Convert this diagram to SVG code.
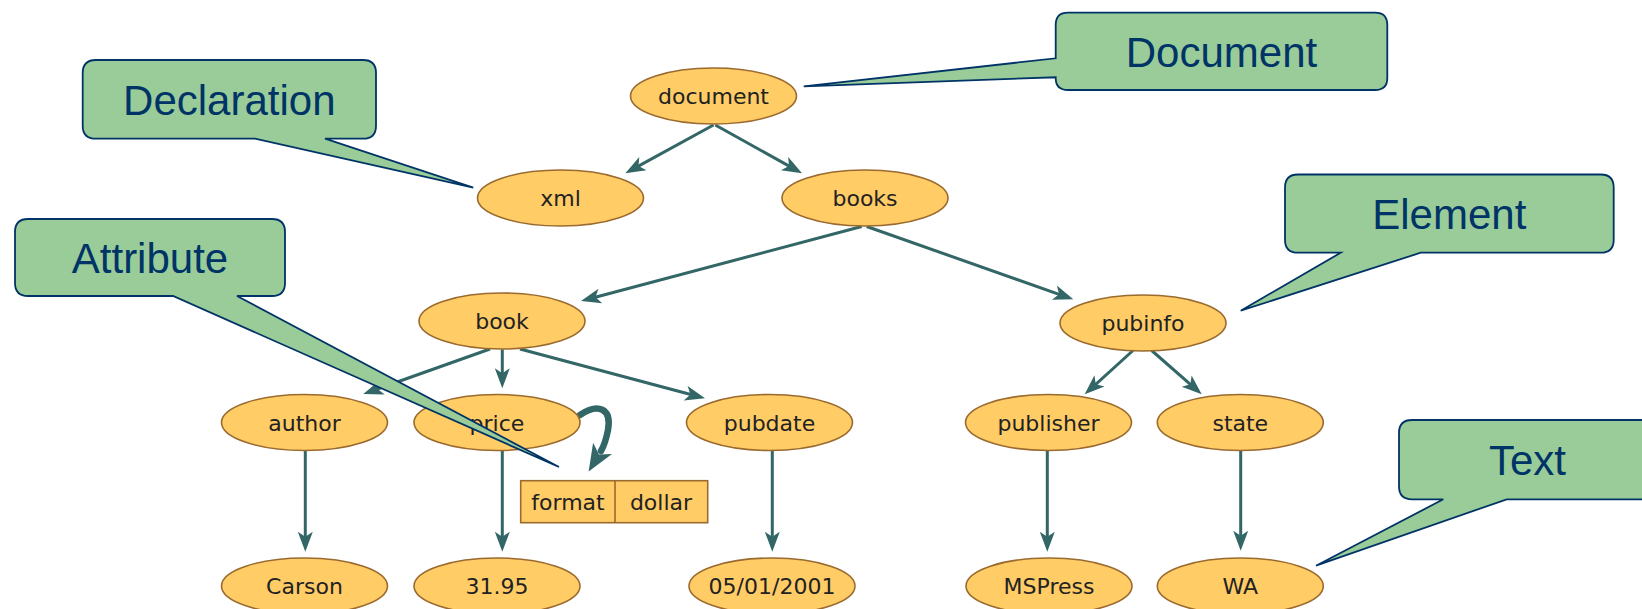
<svg xmlns="http://www.w3.org/2000/svg" width="1642" height="609" viewBox="0 0 1642 609">
  <style>
    .node ellipse { fill: #FFCC66; stroke: #9A6A2E; stroke-width: 1.6; }
    .node rect { fill: #FFCC66; stroke: #9A6A2E; stroke-width: 1.6; }
    .node line { stroke: #9A6A2E; stroke-width: 1.6; }
    .lbl { font-family: "DejaVu Sans", Verdana, sans-serif; font-size: 22px; fill: #222222; text-anchor: middle; }
    .edge { stroke: #336666; stroke-width: 3; fill: none; marker-end: url(#ah); }
    .edge-attr { stroke: #336666; stroke-width: 6.5; fill: none; marker-end: url(#ahb); stroke-linecap: round; }
    .callout path { fill: #99CC99; stroke: #003366; stroke-width: 1.8; }
    .ctext { font-family: "Liberation Sans", Arial, sans-serif; font-size: 42px; fill: #003366; text-anchor: middle; }
  </style>
  <defs>
    <marker id="ah" viewBox="-1 -9 23 18" markerWidth="23" markerHeight="18" refX="14" refY="0" orient="auto" markerUnits="userSpaceOnUse">
      <path d="M0,-7.5 L20,0 L0,7.5 L5,0 Z" fill="#336666"/>
    </marker>
    <marker id="ahb" viewBox="-1 -13 30 26" markerWidth="30" markerHeight="26" refX="3" refY="0" orient="auto" markerUnits="userSpaceOnUse">
      <path d="M0,-11 L27,0 L0,11 L7,0 Z" fill="#336666"/>
    </marker>
  </defs>

  <rect width="1642" height="609" fill="#FFFFFF"/>

  <!-- tree edges -->
  <g id="connectors">
    <line class="edge" x1="713.5" y1="125" x2="630.6" y2="170.4"/>
    <line class="edge" x1="715.3" y1="125" x2="796.8" y2="170.4"/>
    <line class="edge" x1="861.7" y1="226.5" x2="586.8" y2="299.5"/>
    <line class="edge" x1="866.7" y1="226.5" x2="1067.6" y2="297.3"/>
    <line class="edge" x1="490" y1="349" x2="369" y2="392"/>
    <line class="edge" x1="502.3" y1="349.3" x2="502.3" y2="382.3"/>
    <line class="edge" x1="520" y1="349" x2="699.2" y2="396.8"/>
    <line class="edge" x1="1133" y1="350.5" x2="1089.1" y2="390.3"/>
    <line class="edge" x1="1151.7" y1="350.5" x2="1197.2" y2="390.3"/>
    <line class="edge" x1="305.3" y1="451" x2="305.3" y2="545.7"/>
    <line class="edge" x1="502.3" y1="451" x2="502.3" y2="545.7"/>
    <line class="edge" x1="772.3" y1="450" x2="772.3" y2="545.7"/>
    <line class="edge" x1="1047.3" y1="450" x2="1047.3" y2="545.7"/>
    <line class="edge" x1="1240.7" y1="450" x2="1240.7" y2="544.7"/>
    <path class="edge-attr" d="M 580 415 C 598 403, 612 408, 608 430 C 606 440, 604 446, 601 451"/>
  </g>

  <!-- tree nodes -->
  <g id="node-document" class="node"><ellipse cx="713.5" cy="96" rx="83" ry="28"/><text class="lbl" x="713.5" y="104">document</text></g>
  <g id="node-xml" class="node"><ellipse cx="560.5" cy="198" rx="83" ry="28"/><text class="lbl" x="560.5" y="206">xml</text></g>
  <g id="node-books" class="node"><ellipse cx="865" cy="198" rx="83" ry="28"/><text class="lbl" x="865" y="206">books</text></g>
  <g id="node-book" class="node"><ellipse cx="502" cy="321" rx="83" ry="28"/><text class="lbl" x="502" y="329">book</text></g>
  <g id="node-pubinfo" class="node"><ellipse cx="1143" cy="323" rx="83" ry="28"/><text class="lbl" x="1143" y="331">pubinfo</text></g>
  <g id="node-author" class="node"><ellipse cx="304.5" cy="422.5" rx="83" ry="28"/><text class="lbl" x="304.5" y="430.5">author</text></g>
  <g id="node-price" class="node"><ellipse cx="497" cy="422.5" rx="83" ry="28"/><text class="lbl" x="497" y="430.5">price</text></g>
  <g id="node-pubdate" class="node"><ellipse cx="769.5" cy="422.5" rx="83" ry="28"/><text class="lbl" x="769.5" y="430.5">pubdate</text></g>
  <g id="node-publisher" class="node"><ellipse cx="1048.5" cy="422.5" rx="83" ry="28"/><text class="lbl" x="1048.5" y="430.5">publisher</text></g>
  <g id="node-state" class="node"><ellipse cx="1240.3" cy="422.5" rx="83" ry="28"/><text class="lbl" x="1240.3" y="430.5">state</text></g>
  <g id="node-format" class="node">
    <rect x="520.7" y="480.7" width="187" height="42"/>
    <line x1="615" y1="480.7" x2="615" y2="522.7"/>
    <text class="lbl" x="568" y="510">format</text>
    <text class="lbl" x="661" y="510">dollar</text>
  </g>
  <g id="node-carson" class="node"><ellipse cx="304.5" cy="586" rx="83" ry="28"/><text class="lbl" x="304.5" y="594">Carson</text></g>
  <g id="node-price-value" class="node"><ellipse cx="497" cy="586" rx="83" ry="28"/><text class="lbl" x="497" y="594">31.95</text></g>
  <g id="node-date" class="node"><ellipse cx="772" cy="586" rx="83" ry="28"/><text class="lbl" x="772" y="594">05/01/2001</text></g>
  <g id="node-mspress" class="node"><ellipse cx="1049" cy="586" rx="83" ry="28"/><text class="lbl" x="1049" y="594">MSPress</text></g>
  <g id="node-wa" class="node"><ellipse cx="1240.3" cy="586" rx="83" ry="28"/><text class="lbl" x="1240.3" y="594">WA</text></g>

  <!-- callouts -->
  <g id="callout-declaration" class="callout">
    <path d="M 96 60 H 363 Q 376 60 376 73 V 125.7 Q 376 138.7 363 138.7 H 325 L 473.3 187.7 L 255 138.7 H 96 Q 82.7 138.7 82.7 125.7 V 73 Q 82.7 60 96 60 Z"/>
    <text class="ctext" x="229.3" y="115">Declaration</text>
  </g>
  <g id="callout-document" class="callout">
    <path d="M 1068 12.7 H 1375 Q 1387.3 12.7 1387.3 25 V 78 Q 1387.3 90 1375 90 H 1068 Q 1055.7 90 1055.7 78 V 77.3 L 803.7 86.3 L 1055.7 58.3 V 25 Q 1055.7 12.7 1068 12.7 Z"/>
    <text class="ctext" x="1221.5" y="67.3">Document</text>
  </g>
  <g id="callout-element" class="callout">
    <path d="M 1298 174.5 H 1600.7 Q 1613.7 174.5 1613.7 187.5 V 239.7 Q 1613.7 252.7 1600.7 252.7 H 1420.7 L 1240.7 310.7 L 1340.7 252.7 H 1298 Q 1285 252.7 1285 239.7 V 187.5 Q 1285 174.5 1298 174.5 Z"/>
    <text class="ctext" x="1449.3" y="229.3">Element</text>
  </g>
  <g id="callout-attribute" class="callout">
    <path d="M 28 219 H 272 Q 285 219 285 232 V 283 Q 285 296 272 296 H 237 L 559 467 L 173 296 H 28 Q 15 296 15 283 V 232 Q 15 219 28 219 Z"/>
    <text class="ctext" x="150" y="273.3">Attribute</text>
  </g>
  <g id="callout-text" class="callout">
    <path d="M 1412 420 H 1643 Q 1656 420 1656 433 V 486.3 Q 1656 499.3 1643 499.3 H 1506.7 L 1316 565.7 L 1443.3 499.3 H 1412 Q 1399 499.3 1399 486.3 V 433 Q 1399 420 1412 420 Z"/>
    <text class="ctext" x="1527.5" y="475">Text</text>
  </g>
</svg>
